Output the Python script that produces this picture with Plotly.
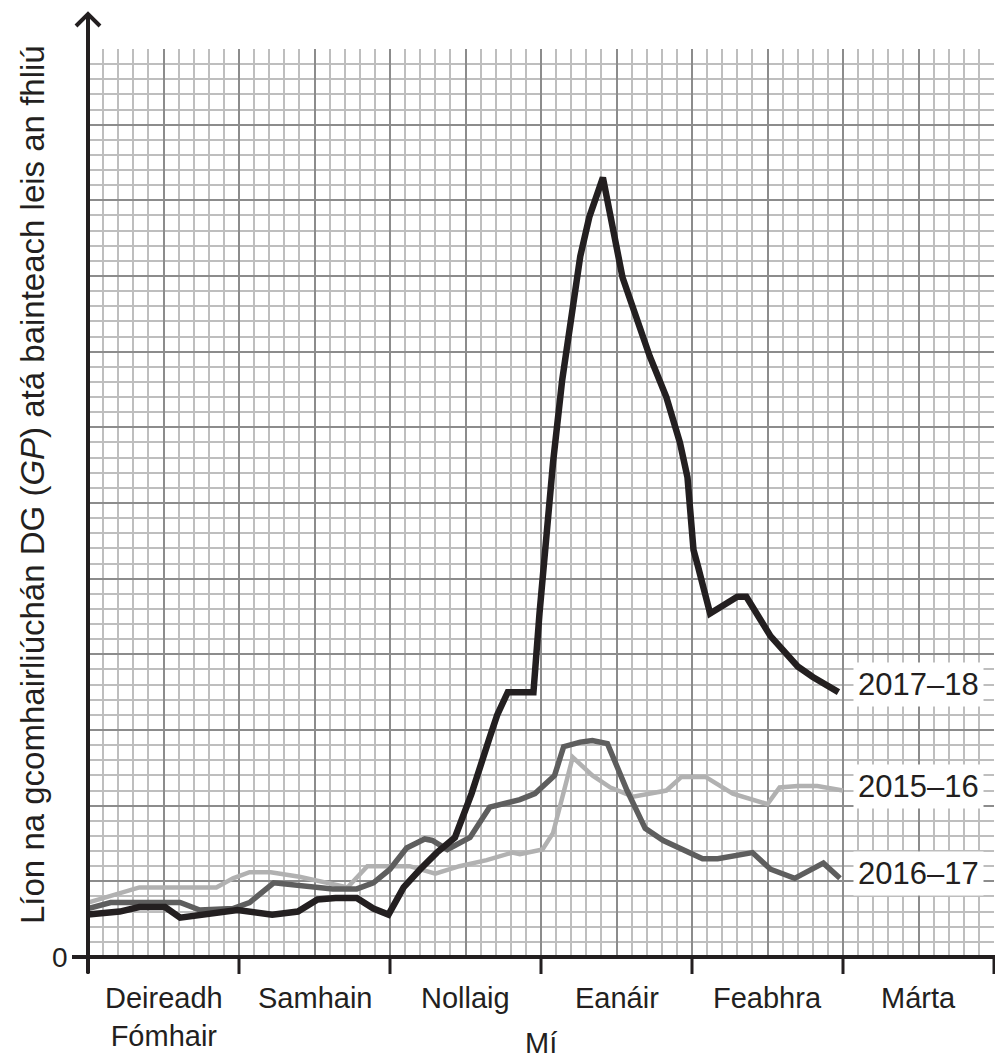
import plotly.graph_objects as go

# ---- data (x in months from start of October, y in grid units) ----
months = ["Deireadh<br>Fómhair", "Samhain", "Nollaig", "Eanáir", "Feabhra", "Márta"]

x_2017_18 = [0.00, 0.21, 0.34, 0.51, 0.61, 0.74, 0.99, 1.22, 1.39, 1.52, 1.64, 1.78, 1.89, 1.99,
             2.09, 2.20, 2.31, 2.43, 2.54, 2.66, 2.71, 2.78, 2.95, 2.99, 3.04, 3.08, 3.14, 3.26,
             3.32, 3.41, 3.54, 3.61, 3.72, 3.83, 3.92, 3.97, 4.01, 4.04, 4.12, 4.30, 4.36, 4.52,
             4.58, 4.70, 4.80, 4.97]
y_2017_18 = [2.8, 3.0, 3.3, 3.3, 2.6, 2.8, 3.1, 2.8, 3.0, 3.8, 3.9, 3.9, 3.2, 2.8,
             4.6, 5.8, 6.9, 7.9, 10.8, 14.5, 16.0, 17.5, 17.5, 22.7, 28.2, 32.7, 38.1, 46.3,
             48.9, 51.5, 44.9, 42.8, 39.7, 37.0, 34.0, 31.7, 26.9, 25.8, 22.7, 23.8, 23.8, 21.2,
             20.5, 19.2, 18.5, 17.5]

x_2016_17 = [0.00, 0.15, 0.61, 0.74, 0.96, 1.07, 1.23, 1.40, 1.62, 1.78, 1.89, 2.00, 2.11, 2.23,
             2.28, 2.38, 2.53, 2.66, 2.86, 2.96, 3.09, 3.15, 3.26, 3.34, 3.44, 3.57, 3.69, 3.81,
             3.97, 4.07, 4.17, 4.40, 4.52, 4.68, 4.87, 4.98]
y_2016_17 = [3.2, 3.6, 3.6, 3.1, 3.2, 3.6, 4.9, 4.7, 4.5, 4.5, 4.9, 5.8, 7.2, 7.8,
             7.7, 7.1, 7.9, 9.9, 10.4, 10.8, 12.0, 13.9, 14.2, 14.3, 14.1, 11.0, 8.5, 7.7,
             6.9, 6.5, 6.5, 6.9, 5.8, 5.2, 6.2, 5.2]

x_2015_16 = [0.00, 0.17, 0.34, 0.50, 0.85, 0.96, 1.07, 1.21, 1.40, 1.72, 1.85, 2.07, 2.13, 2.30,
             2.46, 2.64, 2.81, 2.86, 3.01, 3.08, 3.14, 3.21, 3.34, 3.46, 3.61, 3.72, 3.83, 3.93,
             4.09, 4.27, 4.50, 4.58, 4.70, 4.83, 5.00]
y_2015_16 = [3.6, 4.1, 4.6, 4.6, 4.6, 5.2, 5.6, 5.6, 5.3, 4.6, 6.0, 6.0, 6.0, 5.5,
             6.0, 6.4, 6.9, 6.8, 7.1, 8.2, 10.4, 13.2, 12.0, 11.2, 10.6, 10.8, 11.0, 11.9,
             11.9, 10.8, 10.1, 11.2, 11.3, 11.3, 11.0]

series_labels = ["2017–18", "2015–16", "2016–17"]
label_y = [18.0, 11.25, 5.5]

# ---- layout geometry ----
W, H = 995, 1061
L, R, T, B = 88, 1, 49, 104
PW, PH = W - L - R, H - T - B
XMAX, YMAX = 6, 60
INK = "#231f20"
FONT = "Liberation Sans, Arial, sans-serif"

def px(p):
    return (p - L) / PW

def py(p):
    return (H - B - p) / PH

fig = go.Figure()
fig.add_trace(go.Scatter(x=x_2015_16, y=y_2015_16, mode="lines",
                         line=dict(color="#b1b1b1", width=4.5), name="2015–16"))
fig.add_trace(go.Scatter(x=x_2016_17, y=y_2016_17, mode="lines",
                         line=dict(color="#5e5e5e", width=5.5), name="2016–17"))
fig.add_trace(go.Scatter(x=x_2017_18, y=y_2017_18, mode="lines",
                         line=dict(color=INK, width=6.5), name="2017–18"))

shapes = []
# x axis line
shapes.append(dict(type="line", xref="paper", yref="paper", x0=px(72), x1=px(995),
                   y0=0, y1=0, line=dict(color=INK, width=4)))
# y axis line with arrow
shapes.append(dict(type="line", xref="paper", yref="paper", x0=0, x1=0,
                   y0=py(973), y1=py(14), line=dict(color=INK, width=4)))
shapes.append(dict(type="path", xref="paper", yref="paper",
                   path=f"M {px(76)},{py(26)} L {px(88)},{py(14)} L {px(100)},{py(26)}",
                   line=dict(color=INK, width=4)))
# month boundary ticks
for m in range(len(months) + 1):
    shapes.append(dict(type="line", xref="paper", yref="paper", x0=m / XMAX, x1=m / XMAX,
                       y0=0, y1=py(974), line=dict(color=INK, width=3)))

ann = []
ann.append(dict(text="0", xref="paper", yref="paper", x=px(60), y=0, xanchor="center",
                yanchor="middle", showarrow=False, font=dict(size=28, color=INK, family=FONT)))
for i, m in enumerate(months):
    ann.append(dict(text=m, xref="x", yref="paper", x=i + 0.5, y=py(980), xanchor="center",
                    yanchor="top", showarrow=False,
                    font=dict(size=29, color=INK, family=FONT)))
ann.append(dict(text="Mí", xref="x", yref="paper", x=3.0, y=py(1043), xanchor="center",
                yanchor="middle", showarrow=False, font=dict(size=29, color=INK, family=FONT)))
ann.append(dict(text="Líon na gcomhairliúchán DG (<i>GP</i>) atá bainteach leis an fhliú",
                xref="paper", yref="paper", x=px(33), y=py(485), xanchor="center",
                yanchor="middle", textangle=-90, showarrow=False,
                font=dict(size=33, color=INK, family=FONT)))
for s, yy in zip(series_labels, label_y):
    ann.append(dict(text=s, xref="x", yref="y", x=5.066, y=yy, xanchor="left",
                    yanchor="middle", showarrow=False, bgcolor="white", borderpad=4,
                    font=dict(size=31, color=INK, family=FONT)))

fig.update_layout(
    width=W, height=H,
    margin=dict(l=L, r=R, t=T, b=B),
    paper_bgcolor="white", plot_bgcolor="white",
    showlegend=False,
    shapes=shapes, annotations=ann,
    xaxis=dict(range=[0, XMAX], dtick=0.5, tick0=0, showgrid=True, gridcolor="#8c8c8c",
               gridwidth=2, zeroline=False, showline=False, showticklabels=False,
               ticks="", fixedrange=True,
               minor=dict(dtick=0.1, tick0=0, showgrid=True, gridcolor="#bebebe", gridwidth=1.6)),
    yaxis=dict(range=[0, YMAX], dtick=5, tick0=0, showgrid=True, gridcolor="#8c8c8c",
               gridwidth=2, zeroline=False, showline=False, showticklabels=False,
               ticks="", fixedrange=True,
               minor=dict(dtick=1, tick0=0, showgrid=True, gridcolor="#bebebe", gridwidth=1.6)),
)

fig.write_html(
    "out.html",
    config={"displayModeBar": False},
    post_script="document.body.style.margin='0';document.body.style.overflow='hidden';",
)
